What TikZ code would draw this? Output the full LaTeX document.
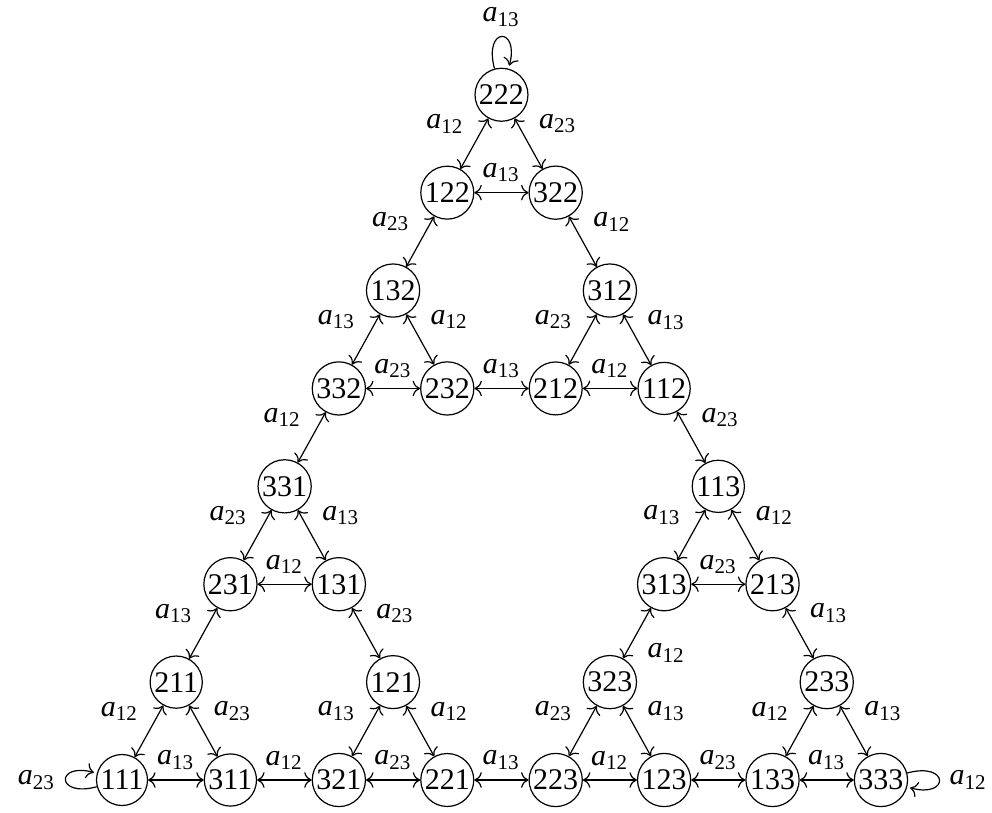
\documentclass[tikz,border=0pt]{standalone}
\usepackage{fontspec}
\setmainfont{Liberation Serif}
\usetikzlibrary{arrows.meta,positioning}

\newcommand{\alab}[1]{\textit{a}\textsubscript{#1}}

\begin{document}
\begin{tikzpicture}[x=18.07pt, y=32.63pt,
  state/.style={circle, draw, inner sep=0.5pt, minimum size=17pt},
  lbl/.style={inner sep=3.3pt}]
\useasboundingbox (-40.67pt,-10.67pt) rectangle (290pt,260pt);
% States: name/column/row
\foreach \n/\c/\r in {111/0/0,311/2/0,321/4/0,221/6/0,223/8/0,123/10/0,133/12/0,333/14/0,
  211/1/1,121/5/1,323/9/1,233/13/1,
  231/2/2,131/4/2,313/10/2,213/12/2,
  331/3/3,113/11/3,
  332/4/4,232/6/4,212/8/4,112/10/4,
  132/5/5,312/9/5,
  122/6/6,322/8/6,
  222/7/7} {
  \node[state] (n\n) at (\c,\r) {\n};
}
% Transitions between states
\foreach \a/\b/\l/\p in {122/322/13/above, 332/232/23/above, 232/212/13/above,
  212/112/12/above, 231/131/12/above, 313/213/23/above, 111/311/13/above,
  311/321/12/above, 321/221/23/above, 221/223/13/above, 223/123/12/above,
  123/133/23/above, 133/333/13/above,
  222/122/12/above left, 122/132/23/above left, 132/332/13/above left,
  312/212/23/above left, 332/331/12/above left, 331/231/23/above left,
  231/211/13/above left, 211/111/12/above left, 121/321/13/above left,
  113/313/13/above left, 323/223/23/above left, 233/133/12/above left,
  222/322/23/above right, 322/312/12/above right, 132/232/12/above right,
  312/112/13/above right, 112/113/23/above right, 331/131/13/above right,
  131/121/23/above right, 211/311/23/above right, 121/221/12/above right,
  113/213/12/above right, 213/233/13/above right, 323/123/13/above right,
  233/333/13/above right, 313/323/12/below right} {
  \draw[<->] (n\a) -- node[lbl,\p] {\alab{\l}} (n\b);
}
% Loops at the three corners
\path (n222) edge[->, loop above] node[lbl,above] {\alab{13}} ();
\path (n111) edge[->, loop left] node[lbl,left] {\alab{23}} ();
\path (n333) edge[->, loop right] node[lbl,right] {\alab{12}} ();
\end{tikzpicture}
\end{document}
